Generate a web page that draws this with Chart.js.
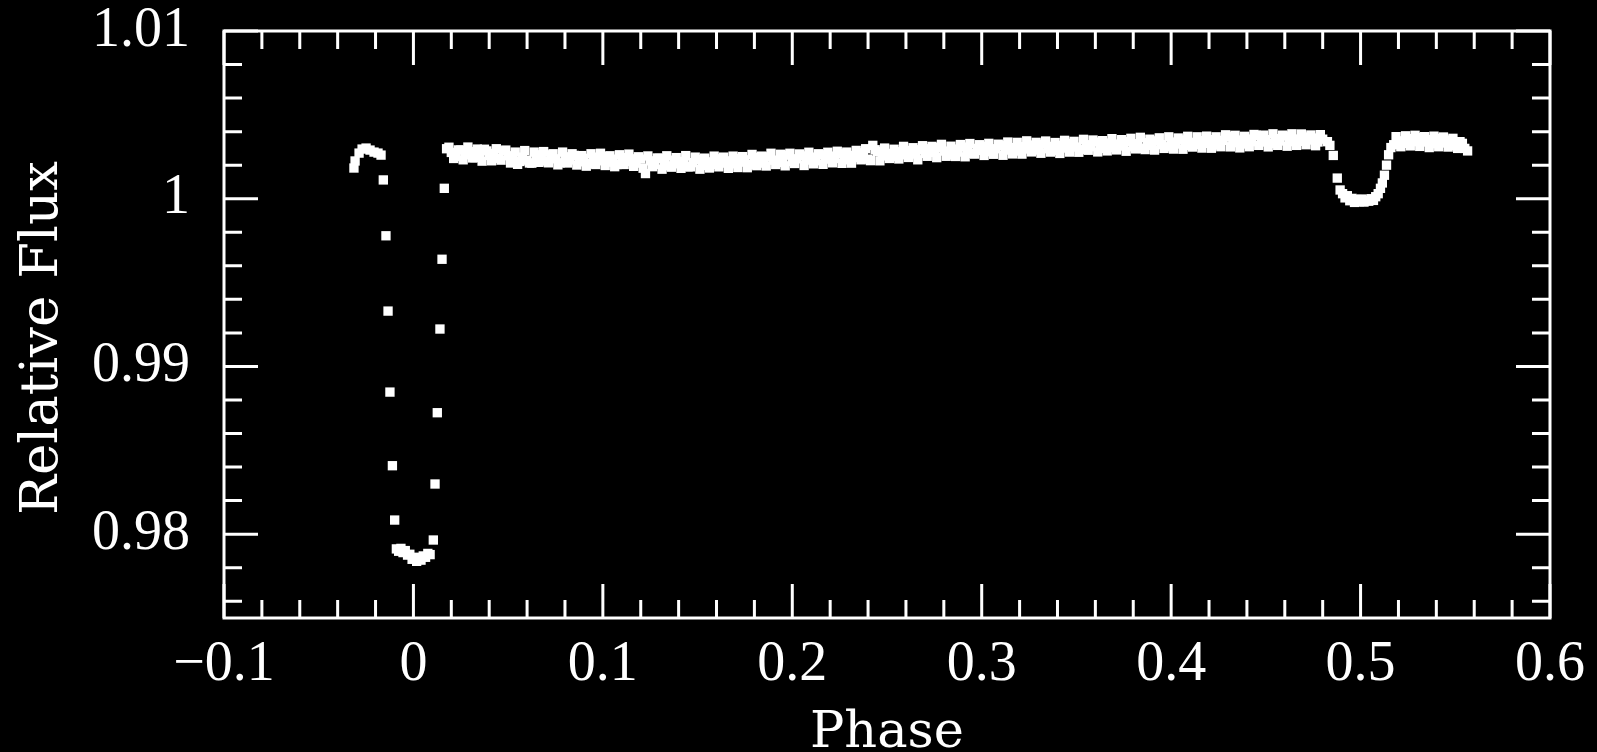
<!DOCTYPE html>
<html>
<head>
<meta charset="utf-8">
<script src="https://cdn.jsdelivr.net/npm/chart.js@4.4.0/dist/chart.umd.min.js"></script>
<style>
  html, body { margin: 0; padding: 0; background: #000; }
</style>
</head>
<body>
<canvas id="lightCurve" width="1597" height="752"></canvas>
<script>
// primary transit: pre-ingress, ingress, bottom, egress
const transitPhase = [
  -0.0314, -0.0308, -0.0287, -0.0271, -0.0250, -0.0229, -0.0208, -0.0187, -0.0171,
  -0.0159, -0.0145, -0.0134, -0.0124, -0.0111, -0.0099,
  -0.0090, -0.0078, -0.0066, -0.0055, -0.0043, -0.0031, -0.0019, -0.0007,
  0.0005, 0.0017, 0.0029, 0.0040, 0.0052, 0.0064, 0.0076, 0.0088,
  0.0105, 0.0114, 0.0126, 0.0140, 0.0151, 0.0163
];
const transitFlux = [
  1.00183, 1.00225, 1.00272, 1.00296, 1.00302, 1.00290, 1.00278, 1.00272, 1.00260,
  1.00112, 0.99779, 0.99330, 0.98847, 0.98408, 0.98084,
  0.97912, 0.97898, 0.97915, 0.97890, 0.97902, 0.97875, 0.97880, 0.97850,
  0.97862, 0.97838, 0.97858, 0.97845, 0.97870, 0.97862, 0.97885, 0.97878,
  0.97965, 0.98299, 0.98724, 0.99223, 0.99639, 1.00062
];

// out of eclipse, between the two eclipses
const outPhase = [
  0.0175, 0.0200, 0.0225, 0.0250, 0.0275, 0.0300, 0.0325, 0.0350, 0.0375, 0.0400,
  0.0425, 0.0450, 0.0475, 0.0500, 0.0525, 0.0550, 0.0575, 0.0600, 0.0625, 0.0650,
  0.0675, 0.0700, 0.0725, 0.0750, 0.0775, 0.0800, 0.0825, 0.0850, 0.0875, 0.0900,
  0.0925, 0.0950, 0.0975, 0.1000, 0.1025, 0.1050, 0.1075, 0.1100, 0.1125, 0.1150,
  0.1175, 0.1200, 0.1225, 0.1250, 0.1275, 0.1300, 0.1325, 0.1350, 0.1375, 0.1400,
  0.1425, 0.1450, 0.1475, 0.1500, 0.1525, 0.1550, 0.1575, 0.1600, 0.1625, 0.1650,
  0.1675, 0.1700, 0.1725, 0.1750, 0.1775, 0.1800, 0.1825, 0.1850, 0.1875, 0.1900,
  0.1925, 0.1950, 0.1975, 0.2000, 0.2025, 0.2050, 0.2075, 0.2100, 0.2125, 0.2150,
  0.2175, 0.2200, 0.2225, 0.2250, 0.2275, 0.2300, 0.2325, 0.2350, 0.2375, 0.2400,
  0.2425, 0.2450, 0.2475, 0.2500, 0.2525, 0.2550, 0.2575, 0.2600, 0.2625, 0.2650,
  0.2675, 0.2700, 0.2725, 0.2750, 0.2775, 0.2800, 0.2825, 0.2850, 0.2875, 0.2900,
  0.2925, 0.2950, 0.2975, 0.3000, 0.3025, 0.3050, 0.3075, 0.3100, 0.3125, 0.3150,
  0.3175, 0.3200, 0.3225, 0.3250, 0.3275, 0.3300, 0.3325, 0.3350, 0.3375, 0.3400,
  0.3425, 0.3450, 0.3475, 0.3500, 0.3525, 0.3550, 0.3575, 0.3600, 0.3625, 0.3650,
  0.3675, 0.3700, 0.3725, 0.3750, 0.3775, 0.3800, 0.3825, 0.3850, 0.3875, 0.3900,
  0.3925, 0.3950, 0.3975, 0.4000, 0.4025, 0.4050, 0.4075, 0.4100, 0.4125, 0.4150,
  0.4175, 0.4200, 0.4225, 0.4250, 0.4275, 0.4300, 0.4325, 0.4350, 0.4375, 0.4400,
  0.4425, 0.4450, 0.4475, 0.4500, 0.4525, 0.4550, 0.4575, 0.4600, 0.4625, 0.4650,
  0.4675, 0.4700, 0.4725, 0.4750, 0.4775, 0.4800
];
const outFlux = [
  1.00298, 1.00276, 1.00252, 1.00290, 1.00262, 1.00281, 1.00245, 1.00274, 1.00295, 1.00258,
  1.00270, 1.00241, 1.00285, 1.00256, 1.00236, 1.00205, 1.00248, 1.00230, 1.00212, 1.00262,
  1.00244, 1.00225, 1.00262, 1.00238, 1.00214, 1.00250, 1.00231, 1.00258, 1.00220, 1.00241,
  1.00209, 1.00248, 1.00226, 1.00252, 1.00218, 1.00236, 1.00204, 1.00245, 1.00222, 1.00238,
  1.00212, 1.00236, 1.00150, 1.00226, 1.00205, 1.00240, 1.00214, 1.00196, 1.00230, 1.00208,
  1.00222, 1.00190, 1.00215, 1.00234, 1.00198, 1.00220, 1.00205, 1.00238, 1.00212, 1.00226,
  1.00208, 1.00240, 1.00218, 1.00232, 1.00205, 1.00247, 1.00226, 1.00212, 1.00250, 1.00230,
  1.00216, 1.00244, 1.00260, 1.00222, 1.00238, 1.00255, 1.00230, 1.00248, 1.00226, 1.00262,
  1.00236, 1.00254, 1.00240, 1.00268, 1.00232, 1.00258, 1.00245, 1.00274, 1.00250, 1.00236,
  1.00318, 1.00282, 1.00255, 1.00270, 1.00252, 1.00280, 1.00262, 1.00288, 1.00266, 1.00278,
  1.00292, 1.00270, 1.00298, 1.00276, 1.00305, 1.00284, 1.00262, 1.00296, 1.00278, 1.00308,
  1.00286, 1.00270, 1.00300, 1.00288, 1.00312, 1.00280, 1.00298, 1.00316, 1.00290, 1.00305,
  1.00284, 1.00310, 1.00296, 1.00320, 1.00290, 1.00306, 1.00325, 1.00298, 1.00312, 1.00288,
  1.00318, 1.00302, 1.00330, 1.00308, 1.00294, 1.00322, 1.00310, 1.00338, 1.00300, 1.00318,
  1.00332, 1.00305, 1.00326, 1.00314, 1.00340, 1.00310, 1.00328, 1.00300, 1.00334, 1.00318,
  1.00345, 1.00322, 1.00310, 1.00338, 1.00326, 1.00350, 1.00318, 1.00336, 1.00324, 1.00346,
  1.00330, 1.00352, 1.00336, 1.00320, 1.00348, 1.00372, 1.00334, 1.00350, 1.00326, 1.00356,
  1.00340, 1.00378, 1.00338, 1.00352, 1.00330, 1.00358, 1.00344, 1.00374, 1.00340, 1.00356,
  1.00342, 1.00368, 1.00350, 1.00362, 1.00338, 1.00355
];

// the in-between exposures of the same stretch
const outPhaseB = [
  0.01875, 0.02125, 0.02375, 0.02625, 0.02875, 0.03125, 0.03375, 0.03625, 0.03875, 0.04125,
  0.04375, 0.04625, 0.04875, 0.05125, 0.05375, 0.05625, 0.05875, 0.06125, 0.06375, 0.06625,
  0.06875, 0.07125, 0.07375, 0.07625, 0.07875, 0.08125, 0.08375, 0.08625, 0.08875, 0.09125,
  0.09375, 0.09625, 0.09875, 0.10125, 0.10375, 0.10625, 0.10875, 0.11125, 0.11375, 0.11625,
  0.11875, 0.12125, 0.12375, 0.12625, 0.12875, 0.13125, 0.13375, 0.13625, 0.13875, 0.14125,
  0.14375, 0.14625, 0.14875, 0.15125, 0.15375, 0.15625, 0.15875, 0.16125, 0.16375, 0.16625,
  0.16875, 0.17125, 0.17375, 0.17625, 0.17875, 0.18125, 0.18375, 0.18625, 0.18875, 0.19125,
  0.19375, 0.19625, 0.19875, 0.20125, 0.20375, 0.20625, 0.20875, 0.21125, 0.21375, 0.21625,
  0.21875, 0.22125, 0.22375, 0.22625, 0.22875, 0.23125, 0.23375, 0.23625, 0.23875, 0.24125,
  0.24375, 0.24625, 0.24875, 0.25125, 0.25375, 0.25625, 0.25875, 0.26125, 0.26375, 0.26625,
  0.26875, 0.27125, 0.27375, 0.27625, 0.27875, 0.28125, 0.28375, 0.28625, 0.28875, 0.29125,
  0.29375, 0.29625, 0.29875, 0.30125, 0.30375, 0.30625, 0.30875, 0.31125, 0.31375, 0.31625,
  0.31875, 0.32125, 0.32375, 0.32625, 0.32875, 0.33125, 0.33375, 0.33625, 0.33875, 0.34125,
  0.34375, 0.34625, 0.34875, 0.35125, 0.35375, 0.35625, 0.35875, 0.36125, 0.36375, 0.36625,
  0.36875, 0.37125, 0.37375, 0.37625, 0.37875, 0.38125, 0.38375, 0.38625, 0.38875, 0.39125,
  0.39375, 0.39625, 0.39875, 0.40125, 0.40375, 0.40625, 0.40875, 0.41125, 0.41375, 0.41625,
  0.41875, 0.42125, 0.42375, 0.42625, 0.42875, 0.43125, 0.43375, 0.43625, 0.43875, 0.44125,
  0.44375, 0.44625, 0.44875, 0.45125, 0.45375, 0.45625, 0.45875, 0.46125, 0.46375, 0.46625,
  0.46875, 0.47125, 0.47375, 0.47625, 0.47875
];
const outFluxB = [
  1.00307, 1.00240, 1.00291, 1.00232, 1.00308, 1.00243, 1.00296, 1.00224, 1.00285, 1.00226,
  1.00298, 1.00230, 1.00290, 1.00213, 1.00278, 1.00222, 1.00287, 1.00213, 1.00278, 1.00217,
  1.00281, 1.00214, 1.00268, 1.00202, 1.00278, 1.00213, 1.00268, 1.00201, 1.00257, 1.00194,
  1.00268, 1.00204, 1.00271, 1.00198, 1.00256, 1.00191, 1.00262, 1.00204, 1.00266, 1.00193,
  1.00250, 1.00182, 1.00255, 1.00191, 1.00243, 1.00176, 1.00256, 1.00188, 1.00245, 1.00181,
  1.00257, 1.00190, 1.00248, 1.00176, 1.00242, 1.00183, 1.00254, 1.00190, 1.00248, 1.00181,
  1.00254, 1.00186, 1.00251, 1.00185, 1.00264, 1.00197, 1.00254, 1.00195, 1.00271, 1.00204,
  1.00265, 1.00196, 1.00271, 1.00210, 1.00267, 1.00198, 1.00277, 1.00208, 1.00268, 1.00205,
  1.00277, 1.00214, 1.00283, 1.00211, 1.00278, 1.00212, 1.00288, 1.00232, 1.00298, 1.00227,
  1.00292, 1.00226, 1.00302, 1.00240, 1.00295, 1.00237, 1.00312, 1.00246, 1.00304, 1.00232,
  1.00316, 1.00253, 1.00312, 1.00245, 1.00324, 1.00253, 1.00313, 1.00252, 1.00323, 1.00250,
  1.00329, 1.00266, 1.00322, 1.00258, 1.00330, 1.00265, 1.00325, 1.00259, 1.00338, 1.00267,
  1.00336, 1.00266, 1.00345, 1.00279, 1.00336, 1.00271, 1.00344, 1.00278, 1.00335, 1.00270,
  1.00348, 1.00278, 1.00342, 1.00277, 1.00354, 1.00289, 1.00350, 1.00279, 1.00346, 1.00285,
  1.00358, 1.00291, 1.00352, 1.00283, 1.00360, 1.00297, 1.00366, 1.00293, 1.00355, 1.00290,
  1.00363, 1.00300, 1.00369, 1.00296, 1.00362, 1.00295, 1.00372, 1.00308, 1.00369, 1.00302,
  1.00373, 1.00301, 1.00369, 1.00310, 1.00381, 1.00309, 1.00378, 1.00303, 1.00372, 1.00310,
  1.00383, 1.00318, 1.00379, 1.00309, 1.00387, 1.00318, 1.00379, 1.00313, 1.00387, 1.00318,
  1.00386, 1.00322, 1.00380, 1.00316, 1.00382
];

// secondary eclipse and after it
const secPhase = [
  0.4825, 0.4838, 0.4856, 0.4877, 0.4892, 0.4905, 0.4918, 0.4930, 0.4943, 0.4955,
  0.4968, 0.4980, 0.4993, 0.5005, 0.5018, 0.5030, 0.5043, 0.5055, 0.5068, 0.5080,
  0.5093, 0.5105, 0.5115, 0.5126, 0.5137, 0.5148, 0.5160,
  0.5175, 0.5200, 0.5225, 0.5250, 0.5275, 0.5300, 0.5325, 0.5350, 0.5375, 0.5400,
  0.5425, 0.5450, 0.5475, 0.5500, 0.5525, 0.5550, 0.5565
];
const secFlux = [
  1.00340, 1.00318, 1.00258, 1.00123, 1.00052, 1.00030, 1.00005, 1.00018, 0.99988, 1.00002,
  0.99978, 0.99995, 0.99982, 0.99998, 0.99980, 0.99992, 0.99985, 1.00000, 0.99990, 1.00012,
  1.00030, 1.00062, 1.00094, 1.00140, 1.00200, 1.00262, 1.00305,
  1.00322, 1.00345, 1.00330, 1.00358, 1.00340, 1.00365, 1.00338, 1.00352, 1.00328, 1.00346,
  1.00360, 1.00332, 1.00350, 1.00318, 1.00340, 1.00300, 1.00285
];
const postPhaseB = [
  0.51875, 0.52125, 0.52375, 0.52625, 0.52875, 0.53125, 0.53375, 0.53625, 0.53875, 0.54125,
  0.54375, 0.54625, 0.54875, 0.55125, 0.55375
];
const postFluxB = [
  1.00370, 1.00310, 1.00375, 1.00315, 1.00378, 1.00312, 1.00370, 1.00305, 1.00373, 1.00310,
  1.00368, 1.00308, 1.00360, 1.00300, 1.00330
];

const xTickValues = [-0.1, 0, 0.1, 0.2, 0.3, 0.4, 0.5, 0.6];
const xTickLabels = ['\u22120.1', '0', '0.1', '0.2', '0.3', '0.4', '0.5', '0.6'];
const yTickValues = [0.98, 0.99, 1, 1.01];
const yTickLabels = ['0.98', '0.99', '1', '1.01'];

const toPoints = (xs, ys) => xs.map((p, i) => ({ x: p, y: ys[i] }));
const allPoints = toPoints(transitPhase, transitFlux)
  .concat(toPoints(outPhase, outFlux))
  .concat(toPoints(outPhaseB, outFluxB))
  .concat(toPoints(secPhase, secFlux))
  .concat(toPoints(postPhaseB, postFluxB));

const tickFont = { family: 'Liberation Serif', size: 56, lineHeight: 1 };

// black page, white frame with inward ticks on all four sides, axis titles
const framePlugin = {
  id: 'frame',
  beforeDraw(chart) {
    const ctx = chart.ctx;
    ctx.save();
    ctx.fillStyle = '#000';
    ctx.fillRect(0, 0, chart.width, chart.height);
    ctx.restore();
  },
  afterDraw(chart) {
    const ctx = chart.ctx;
    const a = chart.chartArea;
    const xs = chart.scales.x, ys = chart.scales.y;
    ctx.save();
    ctx.strokeStyle = '#fff';
    ctx.lineWidth = 3;
    ctx.strokeRect(a.left, a.top, a.right - a.left, a.bottom - a.top);

    ctx.beginPath();
    for (let i = -5; i <= 30; i++) {
      const px = xs.getPixelForValue(i * 0.02);
      const len = i % 5 === 0 ? 34 : 18;
      ctx.moveTo(px, a.bottom); ctx.lineTo(px, a.bottom - len);
      ctx.moveTo(px, a.top); ctx.lineTo(px, a.top + len);
    }
    for (let i = 488; i <= 505; i++) {
      const py = ys.getPixelForValue(i * 0.002);
      const len = i % 5 === 0 ? 34 : 18;
      ctx.moveTo(a.left, py); ctx.lineTo(a.left + len, py);
      ctx.moveTo(a.right, py); ctx.lineTo(a.right - len, py);
    }
    ctx.stroke();

    ctx.fillStyle = '#fff';
    ctx.textAlign = 'center';
    ctx.textBaseline = 'alphabetic';
    ctx.font = '51px "DejaVu Serif"';
    ctx.fillText('Phase', (a.left + a.right) / 2, 747);

    ctx.font = '53px "DejaVu Serif"';
    ctx.translate(57, 338);
    ctx.rotate(-Math.PI / 2);
    ctx.fillText('Relative Flux', 0, 0);
    ctx.restore();
  }
};

new Chart(document.getElementById('lightCurve'), {
  type: 'scatter',
  data: {
    datasets: [{
      data: allPoints,
      pointStyle: 'rect',
      pointRadius: 6.6,
      pointBorderWidth: 0,
      backgroundColor: '#fff',
      borderColor: '#fff'
    }]
  },
  options: {
    responsive: false,
    animation: false,
    events: [],
    layout: { padding: { top: 31, right: 47, bottom: 0, left: 0 } },
    plugins: { legend: { display: false }, tooltip: { enabled: false } },
    scales: {
      x: {
        type: 'linear',
        min: -0.1,
        max: 0.6,
        grid: { display: false, drawTicks: false },
        border: { display: false },
        afterBuildTicks: (s) => { s.ticks = xTickValues.map(v => ({ value: v })); },
        afterFit: (s) => { s.height = 134; s.paddingLeft = 0; s.paddingRight = 0; },
        ticks: {
          color: '#fff',
          font: tickFont,
          padding: 19,
          autoSkip: false,
          maxRotation: 0,
          callback: (v, i) => xTickLabels[i]
        }
      },
      y: {
        type: 'linear',
        min: 0.975,
        max: 1.01,
        grid: { display: false, drawTicks: false },
        border: { display: false },
        afterBuildTicks: (s) => { s.ticks = yTickValues.map(v => ({ value: v })); },
        afterFit: (s) => { s.width = 224; s.paddingTop = 0; s.paddingBottom = 0; },
        ticks: {
          color: '#fff',
          font: tickFont,
          padding: 34,
          autoSkip: false,
          callback: (v, i) => yTickLabels[i]
        }
      }
    }
  },
  plugins: [framePlugin]
});
</script>
</body>
</html>
